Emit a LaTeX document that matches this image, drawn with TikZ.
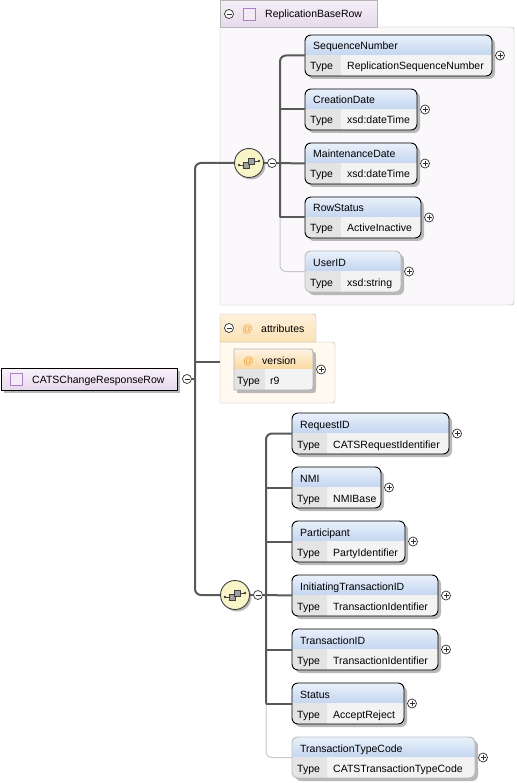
\documentclass[tikz,border=0pt]{standalone}
\usepackage{fontspec}
\setmainfont{Liberation Sans}
\usetikzlibrary{calc}
\definecolor{headtop}{HTML}{EAF1FB}
\definecolor{headbot}{HTML}{C4D6F0}
\definecolor{typecell}{HTML}{E4E4E4}
\definecolor{valuecell}{HTML}{F3F3F3}
\definecolor{elshadow}{HTML}{B8B8B8}
\definecolor{connline}{HTML}{595959}
\definecolor{optline}{HTML}{C8C8C8}
\definecolor{optborder}{HTML}{BDBDBD}
\definecolor{groupline}{HTML}{B4B4B4}
\definecolor{rbtop}{HTML}{F4EEF6}
\definecolor{rbbot}{HTML}{E6DAEB}
\definecolor{rbfill}{HTML}{FBF8FC}
\definecolor{attrtop}{HTML}{FEF1DC}
\definecolor{attrbot}{HTML}{FBE1B4}
\definecolor{attrfill}{HTML}{FFF9EF}
\definecolor{vertop}{HTML}{FEF3E2}
\definecolor{verbot}{HTML}{F9D8A0}
\definecolor{compfill}{HTML}{FAF5C8}
\definecolor{compline}{HTML}{404040}
\definecolor{compbox}{HTML}{A0A0A0}
\definecolor{roottop}{HTML}{F7F1F9}
\definecolor{rootbot}{HTML}{E6D8EC}
\definecolor{iconpurple}{HTML}{B07CC4}
\definecolor{iconfill}{HTML}{F3ECF6}
\definecolor{atcolor}{HTML}{F0A030}
\definecolor{signgrey}{HTML}{303030}
\newcommand{\elementTikz}[8]{ % args = node name, left, top, width, name, type, border colour, width of type column
	\fill[elshadow, rounded corners=6] (#2+3,#3+3) rectangle ++(#4,41); % shadow
	\begin{scope}
		\clip[rounded corners=6] (#2,#3) rectangle ++(#4,41);
		\fill[top color=headtop, bottom color=headbot] (#2,#3) rectangle ++(#4,20); % header
		\fill[typecell] (#2,#3+20) rectangle ++(#8,21); % type label cell
		\fill[valuecell] (#2+#8,#3+20) rectangle ++(#4-#8,21); % type value cell
	\end{scope}
	\node[draw=#7, line width=.9, rounded corners=6, inner sep=0pt, outer sep=0pt, minimum width=#4, minimum height=41, anchor=north west] (#1) at (#2,#3) {};
	\node[anchor=base west, inner sep=0pt] (#1-name) at (#2+8,#3+15) {#5};
	\node[anchor=base west, inner sep=0pt] (#1-label) at (#2+5,#3+35) {Type};
	\node[anchor=base west, inner sep=0pt] (#1-type) at (#2+#8+6,#3+35) {#6};
	\node[expandsign] (#1-plus) at (#2+#4+8,#3+20.5) {}; % expand button
}
\newcommand{\sequenceTikz}[3]{ % args = node name, x, y
	\fill[elshadow] (#2+2,#3+2) circle (14.5);
	\node[draw=compline, circle, fill=compfill, line width=.9, minimum size=29, inner sep=0pt] (#1) at (#2,#3) {};
	\draw[compline, line width=.7] (#2-10,#3+2) -- (#2-6,#3+2) (#2+5,#3-2) -- (#2+10,#3-2); % sequence icon
	\fill[compline] (#2-10,#3+2) circle (1.3) (#2+10,#3-2) circle (1.3);
	\draw[compline, fill=compbox, line width=.6] (#2-6,#3-1) rectangle ++(6,6);
	\draw[compline, fill=compbox, line width=.6] (#2-1,#3-5) rectangle ++(6,6);
}

\begin{document}
\begin{tikzpicture}[x=1pt, y=-1pt, font=\fontsize{10.5}{12}\selectfont,
	conn/.style={draw=connline, line width=2},
	optconn/.style={draw=optline, line width=1},
	expandsign/.style={circle, draw=signgrey, fill=white, line width=.7, inner sep=0pt, minimum size=9,
		path picture={\draw[signgrey, line width=.7] ([xshift=-2.5pt]path picture bounding box.center) -- ([xshift=2.5pt]path picture bounding box.center) ([yshift=-2.5pt]path picture bounding box.center) -- ([yshift=2.5pt]path picture bounding box.center);}},
	collapsesign/.style={circle, draw=signgrey, fill=white, line width=.7, inner sep=0pt, minimum size=9,
		path picture={\draw[signgrey, line width=.7] ([xshift=-2.5pt]path picture bounding box.center) -- ([xshift=2.5pt]path picture bounding box.center);}}]
	\useasboundingbox (0,0) rectangle (516,783);
		% group ReplicationBaseRow
		\draw[groupline, fill=rbfill] (220,305) -- (220,27) -- (508,27) .. controls (514,27) .. (514,33) -- (514,299) .. controls (514,305) .. (508,305) -- cycle;
		\draw[groupline, top color=rbtop, bottom color=rbbot] (220,27) -- (220,0.5) -- (377,0.5) -- (377,27) -- cycle;
		\node[collapsesign] (rbm) at (229,14) {};
		\node[draw=iconpurple, fill=iconfill, line width=.9, minimum size=12, inner sep=0pt] (rbicon) at (249,14) {};
		\node[anchor=base west, inner sep=0pt] (rbname) at (265,18) {ReplicationBaseRow};
		% group attributes
		\draw[groupline, fill=attrfill] (220,403) -- (220,342) -- (329,342) .. controls (335,342) .. (335,348) -- (335,397) .. controls (335,403) .. (329,403) -- cycle;
		\draw[groupline, top color=attrtop, bottom color=attrbot] (220,342) -- (220,314) -- (310,314) .. controls (316,314) .. (316,320) -- (316,342) -- cycle;
		\node[collapsesign] (atm) at (229,328) {};
		\node[anchor=base west, inner sep=0pt, text=atcolor] (atat) at (242,332) {@};
		\node[anchor=base west, inner sep=0pt] (atname) at (261,332) {attributes};
		% root
		\fill[elshadow] (4,371) rectangle ++(176,22);
		\node[draw, line width=.9, top color=roottop, bottom color=rootbot, inner sep=0pt, minimum width=176, minimum height=22, anchor=north west] (root) at (1,368) {};
		\node[draw=iconpurple, fill=iconfill, line width=.9, minimum size=12, inner sep=0pt] (rooticon) at (16,379) {};
		\node[anchor=base west, inner sep=0pt] (rootname) at (32,383) {CATSChangeResponseRow};
		\node[collapsesign] (rootm) at (187,379) {};
		% compositors
		\sequenceTikz{cA}{249}{163}
		\node[collapsesign] (mA) at (272,163) {};
		\sequenceTikz{cB}{235}{595}
		\node[collapsesign] (mB) at (258,595) {};
		% elements of ReplicationBaseRow
		\foreach \n/\elname/\eltype/\elw/\elbc [count=\i from 0, evaluate=\i as \ytop using 35+54*\i] in {s1/SequenceNumber/ReplicationSequenceNumber/187/black, s2/CreationDate/xsd:dateTime/112/black, s3/MaintenanceDate/xsd:dateTime/112/black, s4/RowStatus/ActiveInactive/116/black, s5/UserID/xsd:string/96/optborder} {
			\elementTikz{\n}{305}{\ytop}{\elw}{\elname}{\eltype}{\elbc}{36};
		};
		% elements of CATSChangeResponseRow
		\foreach \n/\elname/\eltype/\elw/\elbc [count=\i from 0, evaluate=\i as \ytop using 413+54*\i] in {r1/RequestID/CATSRequestIdentifier/157/black, r2/NMI/NMIBase/89/black, r3/Participant/PartyIdentifier/113/black, r4/InitiatingTransactionID/TransactionIdentifier/146/black, r5/TransactionID/TransactionIdentifier/146/black, r6/Status/AcceptReject/112/black, r7/TransactionTypeCode/CATSTransactionTypeCode/183/optborder} {
			\elementTikz{\n}{292}{\ytop}{\elw}{\elname}{\eltype}{\elbc}{35};
		};
		% attribute version
		\fill[elshadow] (237,352) -- (310,352) .. controls (316,352) .. (316,358) -- (316,387) .. controls (316,393) .. (310,393) -- (237,393) -- cycle;
		\begin{scope}
			\clip (234,349) -- (307,349) .. controls (313,349) .. (313,355) -- (313,384) .. controls (313,390) .. (307,390) -- (234,390) -- cycle;
			\fill[top color=vertop, bottom color=verbot] (234,349) rectangle (313,369);
			\fill[typecell] (234,369) rectangle (265,390);
			\fill[valuecell] (265,369) rectangle (313,390);
		\end{scope}
		\draw[groupline, line width=.9] (234,349) -- (307,349) .. controls (313,349) .. (313,355) -- (313,384) .. controls (313,390) .. (307,390) -- (234,390) -- cycle;
		\node[inner sep=0pt, minimum width=79, minimum height=41, anchor=north west] (version) at (234,349) {};
		\node[anchor=base west, inner sep=0pt, text=atcolor] (verat) at (243,364) {@};
		\node[anchor=base west, inner sep=0pt] (vername) at (262,364) {version};
		\node[anchor=base west, inner sep=0pt] (verlabel) at (237,384) {Type};
		\node[anchor=base west, inner sep=0pt] (vertype) at (270,384) {r9};
		\node[expandsign] (version-plus) at (321,369.5) {};
		% connectors
		\coordinate (tR) at (195,379);
		\coordinate (attrIn) at (220,362);
		\coordinate (tA) at (280,163);
		\coordinate (tB) at (266,595);
		\draw[conn, rounded corners=6] (cA.west) -| (tR) |- (cB.west);
		\draw[conn] (rootm.east) -- (tR);
		\draw[conn] (tR |- attrIn) -- (attrIn);
		\draw[optconn, rounded corners=6] (tA |- s4.west) |- (s5.west);
		\draw[conn, rounded corners=6] (s1.west) -| (tA |- s4.west);
		\draw[conn] (cA.east) -- (mA.west);
		\draw[conn] (tA |- s2.west) -- (s2.west);
		\draw[conn] (mA.east) -- (s3.west);
		\draw[conn] (tA |- s4.west) -- (s4.west);
		\draw[optconn, rounded corners=6] (tB |- r6.west) |- (r7.west);
		\draw[conn, rounded corners=6] (r1.west) -| (tB |- r6.west);
		\draw[conn] (cB.east) -- (mB.west);
		\draw[conn] (tB |- r2.west) -- (r2.west);
		\draw[conn] (tB |- r3.west) -- (r3.west);
		\draw[conn] (mB.east) -- (r4.west);
		\draw[conn] (tB |- r5.west) -- (r5.west);
		\draw[conn] (tB |- r6.west) -- (r6.west);
\end{tikzpicture}
\end{document}
